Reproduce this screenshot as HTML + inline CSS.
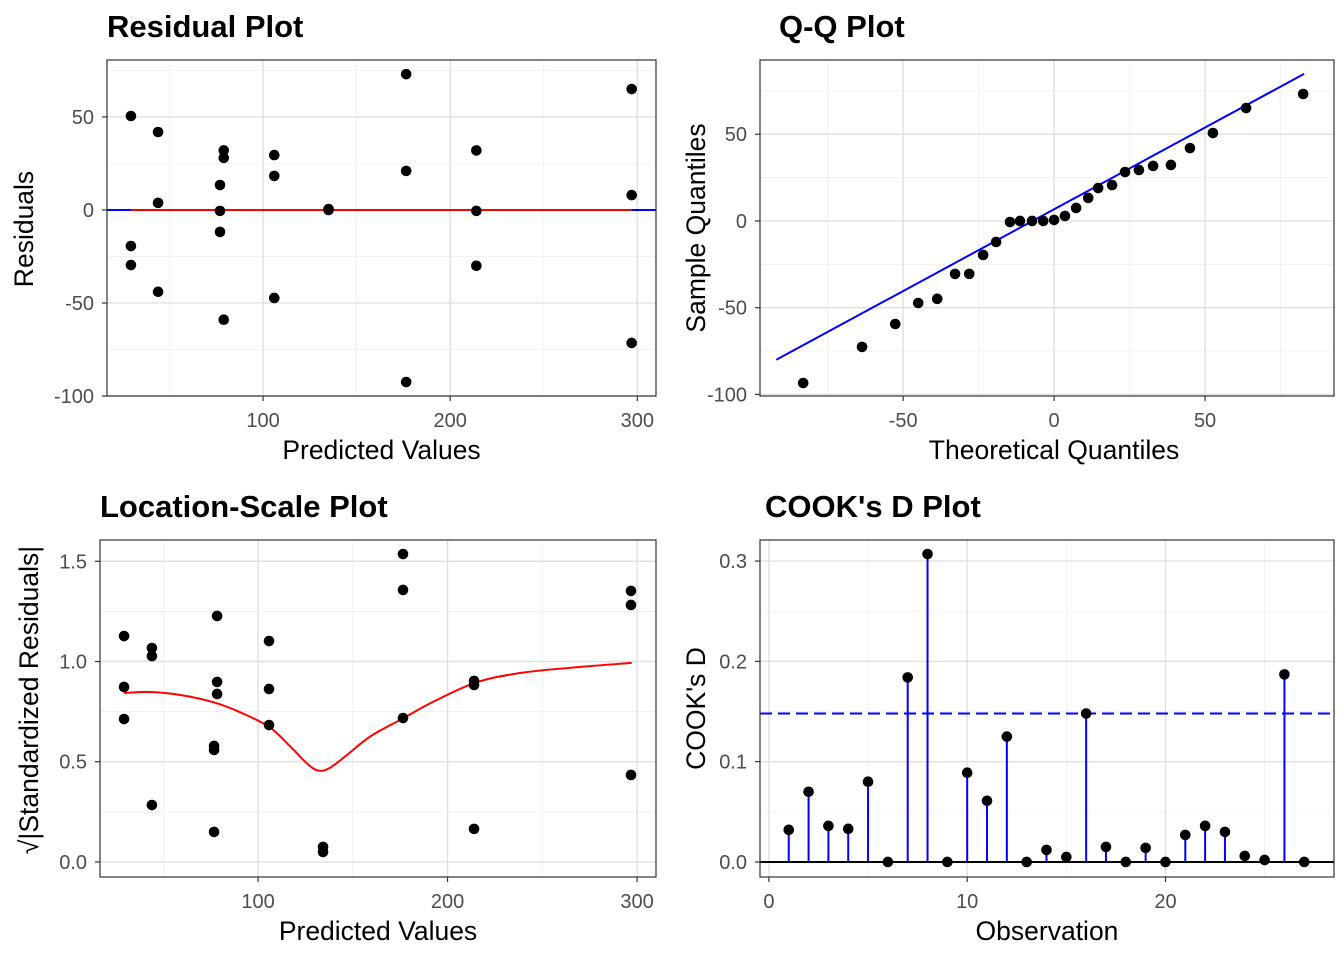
<!DOCTYPE html>
<html><head><meta charset="utf-8"><style>
html,body{margin:0;padding:0;background:#fff;}
svg{display:block;font-family:"Liberation Sans",Arial,sans-serif;}
</style></head><body>
<svg id="c" width="1344" height="960" xmlns="http://www.w3.org/2000/svg"></svg>
<script>
// Residual plot data
const resX = [29.4,29.4,29.4,43.9,43.9,43.9,79,79,77,77,77,79,106,106,106,135,135,176.5,176.5,176.5,214,214,214,297,297,297];
const resY = [50.5,-19.4,-29.6,41.9,3.8,-44,32,28,13.4,-0.5,-11.8,-59,29.5,18.3,-47.3,0.5,0,73,21,-92.5,32,-0.5,-30,65,8,-71.5];
// Q-Q data
const qqTheo = [-83.1,-63.6,-52.6,-45,-38.7,-32.8,-28.1,-23.5,-19.2,-14.6,-11.3,-7.3,-3.6,0,3.6,7.3,11.3,14.6,19.2,23.5,28.1,32.8,38.7,45,52.6,63.6,82.5];
const qqSample = [-93.4,-72.6,-59.4,-47.3,-44.9,-30.5,-30.5,-19.6,-12.1,-0.6,0,0,0,0.6,2.9,7.5,13.3,19,20.7,28.2,29.4,31.7,32.3,42,50.7,65.1,73.2];
const qqLineX = [-92,82.8];
const qqLineY = [-80,84.8];
// Location-scale data
const lsX = [29.3,29.3,29.3,44,44,44,78.4,78.4,78.4,76.8,76.8,76.8,105.8,105.8,105.8,134.3,134.3,176.5,176.5,176.5,214,214,214,296.8,296.8,296.8];
const lsY = [1.127,0.873,0.713,1.067,1.027,0.284,1.227,0.898,0.838,0.579,0.559,0.15,1.102,0.863,0.683,0.075,0.05,1.536,1.357,0.718,0.903,0.883,0.165,1.352,1.282,0.434];
const smoothX = [29.3,43,59,77,90.9,106,117,126,132,138,146.3,159.5,176.9,191.2,214.4,238.7,270.3,297.2];
const smoothY = [0.843,0.848,0.833,0.795,0.745,0.673,0.576,0.49,0.455,0.47,0.529,0.628,0.718,0.793,0.893,0.943,0.973,0.993];
// Cook's D data
const cookObs = [1,2,3,4,5,6,7,8,9,10,11,12,13,14,15,16,17,18,19,20,21,22,23,24,25,26,27];
const cookD = [0.032,0.070,0.036,0.033,0.080,0,0.184,0.307,0,0.089,0.061,0.125,0,0.012,0.005,0.148,0.015,0,0.014,0,0.027,0.036,0.030,0.006,0.002,0.187,0];
const cookThresh = [0.148];

const svg=document.getElementById('c');
const NS='http://www.w3.org/2000/svg';
function mk(tag,attrs,parent,text){const e=document.createElementNS(NS,tag);for(const k in attrs)e.setAttribute(k,attrs[k]);if(text!==undefined)e.textContent=text;(parent||svg).appendChild(e);return e;}

function panel(o){
  const g=mk('g',{});
  
  
  const sx=v=>o.x0+(v-o.xd[0])/(o.xd[1]-o.xd[0])*(o.x1-o.x0);
  const sy=v=>o.y1-(v-o.yd[0])/(o.yd[1]-o.yd[0])*(o.y1-o.y0);
  mk('rect',{x:o.x0,y:o.y0,width:o.x1-o.x0,height:o.y1-o.y0,fill:'#fff'},g);
  o.xminor.forEach(v=>mk('line',{x1:sx(v),x2:sx(v),y1:o.y0,y2:o.y1,stroke:'#ececec','stroke-width':0.7},g));
  o.yminor.forEach(v=>mk('line',{x1:o.x0,x2:o.x1,y1:sy(v),y2:sy(v),stroke:'#ececec','stroke-width':0.7},g));
  o.xt.forEach(v=>mk('line',{x1:sx(v),x2:sx(v),y1:o.y0,y2:o.y1,stroke:'#e0e0e0','stroke-width':1.4},g));
  o.yt.forEach(v=>mk('line',{x1:o.x0,x2:o.x1,y1:sy(v),y2:sy(v),stroke:'#e0e0e0','stroke-width':1.4},g));
  const xa=mk('g',{},g);
  o.xt.forEach(v=>{mk('line',{x1:sx(v),x2:sx(v),y1:o.y1,y2:o.y1+5,stroke:'#333','stroke-width':1.2},xa);
    const t=mk('text',{x:sx(v),y:o.y1+31,'text-anchor':'middle','font-size':20,fill:'#4d4d4d'},xa,o.xl(v));
    });
  const ya=mk('g',{},g);
  o.yt.forEach(v=>{mk('line',{x1:o.x0-5,x2:o.x0,y1:sy(v),y2:sy(v),stroke:'#333','stroke-width':1.2},ya);
    const t=mk('text',{x:o.x0-13,y:sy(v)+7,'text-anchor':'end','font-size':20,fill:'#4d4d4d'},ya,o.yl(v));
    });
  const xt=mk('text',{x:o.xtc||(o.x0+o.x1)/2,y:o.y1+63,'text-anchor':'middle','font-size':26.5,fill:'#000'},g,o.xtitle);
  
  const yt=mk('text',{x:0,y:0,'text-anchor':'middle','font-size':26.5,fill:'#000',transform:`translate(${o.ytx},${o.ytc||(o.y0+o.y1)/2}) rotate(-90)`},g,o.ytitle);
  
  const tt=mk('text',{x:o.tx,y:o.y0-23,'font-size':31,'font-weight':'bold',fill:'#000'},g,o.title);
  
  o.draw(g,sx,sy);
  mk('rect',{x:o.x0,y:o.y0,width:o.x1-o.x0,height:o.y1-o.y0,fill:'none',stroke:'#333','stroke-width':1.2},g);
}
function dot(g,x,y,name){const c=mk('circle',{cx:x,cy:y,r:5.3,fill:'#000'},g);}
const f0=v=>String(v), f1=v=>v.toFixed(1);

panel({name:'residual-plot',x0:107,x1:656,y0:60,y1:396,xd:[16.6,310],yd:[-100,80.6],
 xt:[100,200,300],yt:[-100,-50,0,50],xminor:[50,150,250],yminor:[-75,-25,25,75],xl:f0,yl:f0,
 xtitle:'Predicted Values',ytitle:'Residuals',ytx:33,ytc:229,title:'Residual Plot',tx:107,
 draw:(g,sx,sy)=>{
  const bl=mk('line',{x1:107,x2:656,y1:sy(0),y2:sy(0),stroke:'#0000ff','stroke-width':2},g);
  
  const rl=mk('line',{x1:sx(Math.min(...resX)),x2:sx(Math.max(...resX)),y1:sy(0),y2:sy(0),stroke:'#ff0000','stroke-width':2},g);
  
  resX.forEach((x,i)=>dot(g,sx(x),sy(resY[i]),'residual-point'));
 }});

panel({name:'qq-plot',x0:760,x1:1334,y0:60,y1:396,xd:[-97.4,92.7],yd:[-100.9,92.8],
 xt:[-50,0,50],yt:[-100,-50,0,50],xminor:[-75,-25,25,75],yminor:[-75,-25,25,75],xl:f0,yl:f0,
 xtitle:'Theoretical Quantiles',ytitle:'Sample Quantiles',ytx:705,title:'Q-Q Plot',tx:779,xtc:1054,
 draw:(g,sx,sy)=>{
  const l=mk('line',{x1:sx(qqLineX[0]),x2:sx(qqLineX[1]),y1:sy(qqLineY[0]),y2:sy(qqLineY[1]),stroke:'#0000ff','stroke-width':2},g);
  
  qqTheo.forEach((x,i)=>dot(g,sx(x),sy(qqSample[i]),'qq-point'));
 }});

panel({name:'location-scale-plot',x0:100,x1:656,y0:540,y1:877,xd:[16.6,310],yd:[-0.075,1.606],
 xt:[100,200,300],yt:[0,0.5,1,1.5],xminor:[50,150,250],yminor:[0.25,0.75,1.25],xl:f0,yl:f1,
 xtitle:'Predicted Values',ytitle:'√|Standardized Residuals|',ytx:38,ytc:700,title:'Location-Scale Plot',tx:100,
 draw:(g,sx,sy)=>{
  const P=smoothX.map((x,i)=>[sx(x),sy(smoothY[i])]);
  let d='M'+P[0][0].toFixed(1)+','+P[0][1].toFixed(1);
  for(let i=0;i<P.length-1;i++){
    const p0=P[Math.max(0,i-1)],p1=P[i],p2=P[i+1],p3=P[Math.min(P.length-1,i+2)];
    const c1=[p1[0]+(p2[0]-p0[0])/6,p1[1]+(p2[1]-p0[1])/6],c2=[p2[0]-(p3[0]-p1[0])/6,p2[1]-(p3[1]-p1[1])/6];
    d+=`C${c1[0].toFixed(1)},${c1[1].toFixed(1)} ${c2[0].toFixed(1)},${c2[1].toFixed(1)} ${p2[0].toFixed(1)},${p2[1].toFixed(1)}`;
  }
  const p=mk('path',{d:d,fill:'none',stroke:'#ff0000','stroke-width':2,'stroke-linejoin':'round'},g);
  
  lsX.forEach((x,i)=>dot(g,sx(x),sy(lsY[i]),'scale-point'));
 }});

panel({name:'cooks-d-plot',x0:760,x1:1334,y0:540,y1:877,xd:[-0.45,28.5],yd:[-0.015,0.321],
 xt:[0,10,20],yt:[0,0.1,0.2,0.3],xminor:[5,15,25],yminor:[0.05,0.15,0.25],xl:f0,yl:f1,
 xtitle:'Observation',ytitle:"COOK's D",ytx:705,title:"COOK's D Plot",tx:765,
 draw:(g,sx,sy)=>{
  const th=mk('line',{x1:760,x2:1334,y1:sy(cookThresh[0]),y2:sy(cookThresh[0]),stroke:'#0000ff','stroke-width':2,'stroke-dasharray':'12,6'},g);
  
  cookObs.forEach((o,i)=>{const s=mk('line',{x1:sx(o),x2:sx(o),y1:sy(0),y2:sy(cookD[i]),stroke:'#0000ff','stroke-width':2},g);
    });
  const z=mk('line',{x1:760,x2:1334,y1:sy(0),y2:sy(0),stroke:'#000','stroke-width':2},g);
  
  cookObs.forEach((o,i)=>dot(g,sx(o),sy(cookD[i]),'cook-point'));
 }});
</script>
</body></html>
